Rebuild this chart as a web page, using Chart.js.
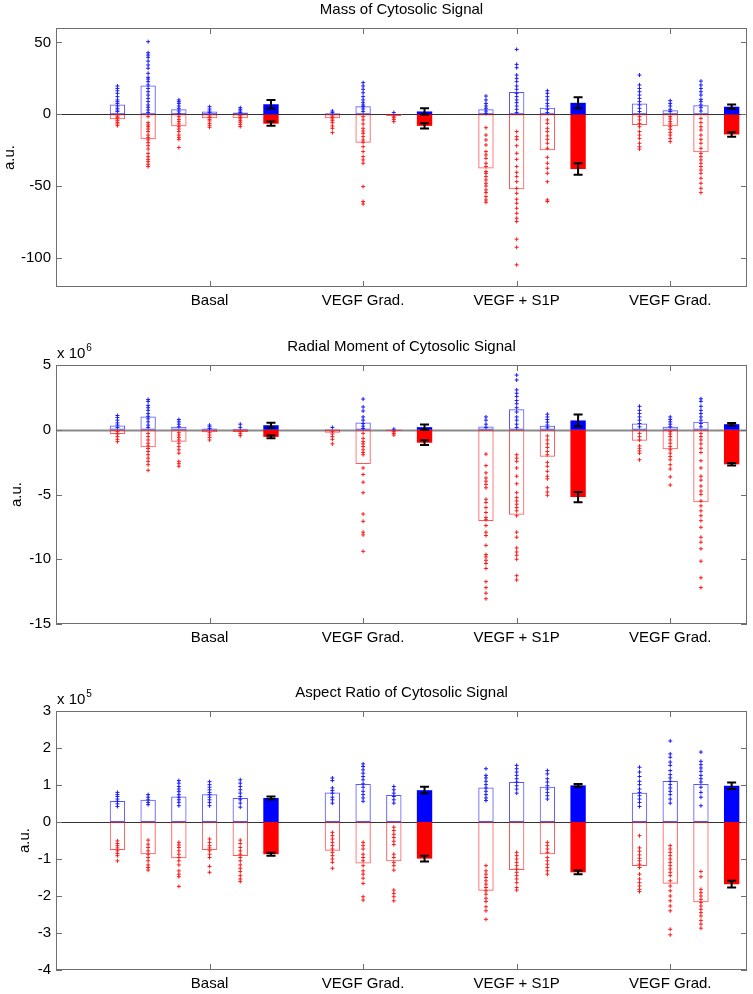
<!DOCTYPE html>
<html><head><meta charset="utf-8">
<script src="https://cdn.jsdelivr.net/npm/chart.js@4.4.0/dist/chart.umd.min.js"></script>
<style>
html,body{margin:0;padding:0;background:#fff;}
body{width:753px;height:994px;position:relative;overflow:hidden;}
.panel{position:absolute;left:0;width:753px;}
canvas{display:block;}
</style></head><body>
<div class="panel" style="top:0px;height:320px"><canvas id="c1" width="753" height="320"></canvas></div>
<div class="panel" style="top:337px;height:320px"><canvas id="c2" width="753" height="320"></canvas></div>
<div class="panel" style="top:683px;height:311px"><canvas id="c3" width="753" height="311"></canvas></div>
<script>
// ---------- shared categories ----------
const barPositions = [2,3,4,5,6, 9,10,11, 14,15,16, 19,20,21];
const summaryPositions = [7,12,17,22];
const groupTicks = [5,10,15,20];
const groupLabels = ['Basal','VEGF Grad.','VEGF + S1P','VEGF Grad.'];

// ---------- Panel 1: Mass of Cytosolic Signal ----------
const massTicks = [-100,-50,0,50];
const massPosMeans = [6.9,20.1,3.5,1.9,1.2, 0.7,5.6,0.3, 3.5,15.5,4.6, 7.6,2.8,6.3];
const massNegMeans = [-3.5,-17.4,-8.3,-2.8,-2.8, -2.8,-19.7,-1.2, -37.7,-52.1,-25, -7.4,-8.3,-26.4];
const massPosPoints = [
  [19.7,18,16.4,14.6,12.3,10,8.8,7.6,5.8,4.2,3,1.9],
  [50.5,42.8,41.2,39.6,37,34.3,32,28.5,25.7,24.5,22.7,20.4,18,15.7,13.4,11.1,8.8,6.5,4.9,3,1.2],
  [10,8.8,7.6,5.8,4.2,2.3,0.7],
  [5.3,3.7,2.3,1.2],
  [4.6,3.5,2.3,1.2],
  [2.3,1.2],
  [22,19.7,17.4,15,12.3,10,8.1,6.5,5.3,3.7,1.9],
  [1.2],
  [12.7,10,7.6,5.8,4.2,2.3,0.7],
  [45.1,34.7,32.4,27.3,25,22.7,19.7,17.4,14.6,12.3,10,8.1,5.8,3.5,1.2],
  [16.4,14.6,12.3,10,7.6,5.8,3.5,1.2],
  [27.3,20.4,18,15.7,13.4,11.1,8.8,6.5,4.2,1.9],
  [9.5,7.6,5.8,3.5,1.9],
  [23.1,20.4,18,15.7,13.4,10.4,8.8,6.5,4.6,2.3]
];
const massNegPoints = [
  [-1.2,-2.1,-3.2,-4.4,-5.6,-6.7,-7.9],
  [-1.6,-5.8,-7.4,-8.6,-10.2,-12,-14.4,-16.2,-17.8,-19.7,-21.8,-24.1,-27.1,-29.4,-31.3,-32.9,-34.7,-36.3],
  [-1.6,-3.5,-5.1,-6.7,-8.6,-10.2,-12,-14.4,-16,-17.4,-23.1],
  [-1.2,-2.3,-3.5,-4.6,-6.3,-7.6,-9],
  [-1,-2,-3.2,-4.4,-5.5,-7,-8.5],
  [-1.2,-2.1,-3.2,-4.4,-5.8,-8.1,-9.7,-12.7],
  [-1.6,-3.9,-6.7,-9.7,-11.6,-13.2,-15.5,-17.8,-19.4,-22.5,-25.9,-29.4,-31.7,-34,-50.2,-60.6,-62.3],
  [-1.2,-2.3,-3.5,-5.1],
  [-9.3,-14.4,-17.8,-21.3,-25.9,-28.2,-30.6,-34,-36.3,-39.8,-41,-43.3,-45.6,-47.9,-49.8,-52.5,-54.4,-57.2,-59.5,-61.1],
  [-12,-15.5,-17.4,-21.8,-27.1,-31.3,-36.3,-40.3,-43.3,-46.8,-51.4,-54.9,-59,-61.8,-65.3,-68.8,-72.2,-74.5,-86.8,-92.4,-104.6],
  [-3.9,-6.3,-9.7,-12,-15,-17.4,-20.1,-23.6,-29.9,-34,-37.5,-41,-46.8,-59.5,-60.6],
  [-1.6,-3.9,-6.3,-8.6,-12,-14.4,-16.7,-20.1,-22.5,-24.1],
  [-1.6,-3.2,-5.1,-6.7,-8.6,-10.4,-12.5,-14.4,-16.7,-19],
  [-2.8,-5.8,-8.6,-10.9,-14.4,-17.4,-20.1,-23.6,-27.1,-29.4,-31.7,-34,-36.3,-38.7,-41,-44.4,-47.9,-51.4,-54.4]
];
const massSumPos = [7,2,8,5.3];
const massSumPosErr = [3,2.2,3.8,1.5];
const massSumNeg = [-6.5,-8,-38,-14];
const massSumNegErr = [1.5,1.8,4,1.5];

// ---------- Panel 2: Radial Moment (x 10^6) ----------
const radTicks = [-15,-10,-5,0,5];
const radPosMeans = [0.33,1.02,0.23,0.1,0.08, 0.03,0.56,0.02, 0.25,1.58,0.3, 0.48,0.23,0.61];
const radNegMeans = [-0.33,-1.35,-0.92,-0.2,-0.18, -0.23,-2.65,-0.1, -7.05,-6.56,-2.09, -0.84,-1.5,-5.6];
const radPosPoints = [
  [1.1,0.94,0.74,0.53,0.36,0.18],
  [2.34,2.19,1.88,1.7,1.5,1.25,1.04,0.84,0.61,0.36,0.18],
  [0.79,0.61,0.43,0.23],
  [0.36,0.23,0.1],
  [0.43,0.18],
  [0.18],
  [2.37,1.76,1.45,0.99,0.74,0.48,0.28,0.1],
  [0.05],
  [0.99,0.74,0.43,0.18],
  [4.22,3.84,3.08,2.82,2.57,2.26,2.01,1.7,1.37,0.99,0.74,0.43,0.18],
  [1.2,0.99,0.79,0.59,0.36,0.15],
  [1.81,1.5,1.25,0.99,0.74,0.48,0.23],
  [0.99,0.79,0.61,0.43,0.23],
  [2.39,2.19,1.81,1.5,1.25,0.99,0.74,0.48,0.23]
];
const radNegPoints = [
  [-0.15,-0.33,-0.53,-0.74,-0.92],
  [-0.28,-0.53,-0.79,-1.04,-1.25,-1.45,-1.68,-1.93,-2.19,-2.44,-2.7,-3.13],
  [-0.23,-0.41,-0.59,-0.79,-1.04,-1.3,-1.55,-1.81,-2.44,-2.62,-2.82],
  [-0.23,-0.41,-0.59,-0.79],
  [-0.15,-0.31,-0.46],
  [-0.15,-0.33,-0.53,-0.74,-1.09],
  [-0.28,-0.66,-0.92,-1.09,-1.3,-1.55,-1.76,-1.93,-2.95,-3.46,-4.05,-4.86,-6.51,-7.07,-7.91,-8.12,-9.39],
  [-0.15,-0.28,-0.41],
  [-1.88,-2.77,-3.33,-3.72,-3.97,-4.22,-4.48,-5.37,-5.62,-6.01,-6.39,-6.77,-6.95,-7.4,-7.91,-8.17,-8.93,-9.64,-9.82,-10.08,-10.33,-10.71,-11.73,-12.19,-12.62,-13.05],
  [-1.93,-2.19,-2.44,-2.95,-3.59,-4.17,-4.86,-5.24,-5.5,-5.75,-6.01,-6.26,-6.64,-7.91,-8.3,-9.13,-9.44,-9.69,-10,-11.27,-11.6],
  [-0.48,-0.79,-1.09,-1.37,-1.68,-1.93,-2.52,-2.82,-3.21,-3.59,-3.79,-4.48,-4.81,-5.06],
  [-0.28,-0.53,-0.79,-1.25,-1.43,-1.63,-1.81,-2.32],
  [-0.15,-0.33,-0.53,-0.79,-1.04,-1.3,-1.55,-1.81,-2.06,-2.32,-2.7,-3.03,-3.64,-4.27],
  [-0.28,-0.53,-0.79,-1.09,-1.43,-1.76,-2.39,-2.95,-3.59,-3.89,-4.35,-4.73,-4.99,-5.5,-5.88,-6.26,-6.64,-7.02,-7.53,-8.3,-8.68,-9.19,-10.15,-11.43,-12.19]
];
const radSumPos = [0.35,0.2,0.72,0.43];
const radSumPosErr = [0.2,0.2,0.45,0.1];
const radSumNeg = [-0.55,-1.0,-5.2,-2.67];
const radSumNegErr = [0.1,0.18,0.4,0.1];

// ---------- Panel 3: Aspect Ratio (x 10^5) ----------
const aspTicks = [-4,-3,-2,-1,0,1,2,3];
const aspPosMeans = [0.57,0.6,0.69,0.75,0.65, 0.8,1.03,0.73, 0.93,1.08,0.95, 0.79,1.11,1.03];
const aspNegMeans = [-0.76,-0.87,-0.98,-0.76,-0.92, -0.78,-1.12,-1.06, -1.86,-1.3,-0.87, -1.19,-1.67,-2.17];
const aspPosPoints = [
  [0.8,0.74,0.69,0.62,0.56,0.49,0.42],
  [0.74,0.67,0.6,0.53,0.47],
  [1.12,1.05,0.96,0.89,0.82,0.74,0.67,0.6,0.53,0.44],
  [1.09,1.01,0.94,0.87,0.8,0.74,0.67,0.6,0.53,0.44],
  [1.14,1.05,0.96,0.87,0.78,0.69,0.6,0.51,0.4],
  [1.19,1.12,0.92,0.85,0.78,0.67,0.6,0.51],
  [1.57,1.5,1.41,1.32,1.23,1.14,1.03,0.94,0.83,0.74,0.65,0.56],
  [0.96,0.87,0.78,0.69,0.6,0.51],
  [1.44,1.26,1.19,1.1,1.01,0.92,0.83,0.74,0.65,0.58],
  [1.53,1.44,1.35,1.26,1.17,1.08,0.98,0.89,0.78],
  [1.39,1.3,1.17,1.08,0.98,0.89,0.8,0.71,0.62],
  [1.48,1.35,1.23,1.1,1.01,0.89,0.8,0.71,0.62,0.53,0.42],
  [2.19,1.84,1.75,1.62,1.53,1.39,1.28,1.19,1.1,1.01,0.92,0.83,0.74,0.62,0.51],
  [1.89,1.64,1.55,1.46,1.37,1.26,1.17,1.08,0.94,0.8,0.67,0.44]
];
const aspNegPoints = [
  [-0.51,-0.58,-0.64,-0.7,-0.78,-0.85,-0.91,-1.05],
  [-0.49,-0.6,-0.69,-0.78,-0.87,-0.96,-1.05,-1.16,-1.23,-1.3],
  [-0.55,-0.62,-0.69,-0.78,-0.87,-0.96,-1.05,-1.16,-1.32,-1.41,-1.48,-1.74],
  [-0.46,-0.55,-0.64,-0.7,-0.78,-0.87,-0.96,-1.2,-1.36],
  [-0.49,-0.58,-0.69,-0.78,-0.87,-0.96,-1.05,-1.16,-1.25,-1.34,-1.45,-1.54,-1.61],
  [-0.28,-0.37,-0.46,-0.55,-0.64,-0.73,-0.82,-0.91,-1,-1.09,-1.25],
  [-0.55,-0.64,-0.73,-0.87,-0.96,-1.05,-1.18,-1.32,-1.41,-1.52,-1.66,-2.02,-2.11],
  [-0.14,-0.23,-0.33,-0.42,-0.52,-0.61,-0.87,-0.96,-1.09,-1.18,-1.3,-1.84,-1.93,-2.02,-2.13],
  [-1.18,-1.32,-1.41,-1.5,-1.59,-1.68,-1.77,-1.86,-1.95,-2.06,-2.15,-2.29,-2.4,-2.63],
  [-0.82,-0.91,-1,-1.09,-1.18,-1.27,-1.36,-1.45,-1.54,-1.64,-1.77,-1.84],
  [-0.55,-0.64,-0.73,-0.82,-0.96,-1.05,-1.14,-1.23,-1.32,-1.41],
  [-0.37,-0.7,-0.79,-0.89,-0.98,-1.05,-1.14,-1.23,-1.41,-1.54,-1.64,-1.73,-1.82,-1.88],
  [-0.64,-0.73,-0.82,-0.91,-1,-1.09,-1.18,-1.27,-1.36,-1.45,-1.59,-1.73,-1.86,-2,-2.13,-2.27,-2.4,-2.9,-3.05],
  [-1.34,-1.48,-1.82,-1.91,-2,-2.09,-2.18,-2.27,-2.36,-2.45,-2.54,-2.66,-2.76,-2.87]
];
const aspSumPos = [0.65,0.86,0.99,0.98];
const aspSumPosErr = [0.04,0.09,0.04,0.09];
const aspSumNeg = [-0.87,-0.99,-1.36,-1.68];
const aspSumNegErr = [0.04,0.08,0.05,0.09];

// ---------- rendering ----------
const FONT = '"Liberation Sans", Arial, Helvetica, sans-serif';
const CHART_LEFT = 56, CHART_RIGHT = 747, CHART_BOTTOM = 287;

function flatPoints(groups) {
  const out = [];
  groups.forEach((arr, i) => arr.forEach(v => out.push({x: barPositions[i], y: v})));
  return out;
}

const decorPlugin = {
  id: 'decor',
  beforeDatasetsDraw(chart) {
    const o = chart.options.plugins.decor;
    const {ctx, chartArea: a, scales: {y}} = chart;
    const y0 = Math.round(y.getPixelForValue(0)) + 0.5;
    ctx.save();
    ctx.strokeStyle = o.zeroColor; ctx.lineWidth = o.zeroWidth;
    ctx.beginPath(); ctx.moveTo(a.left, y0); ctx.lineTo(a.right, y0); ctx.stroke();
    ctx.restore();
  },
  afterDatasetsDraw(chart) {
    const o = chart.options.plugins.decor;
    const {ctx, scales: {x, y}} = chart;
    ctx.save();
    ctx.strokeStyle = '#000'; ctx.lineWidth = 2;
    summaryPositions.forEach((p, i) => {
      const px = x.getPixelForValue(p);
      [[o.sumPos[i], o.sumPosErr[i]], [o.sumNeg[i], o.sumNegErr[i]]].forEach(([m, e]) => {
        const t = y.getPixelForValue(m + e), b = y.getPixelForValue(m - e);
        ctx.beginPath();
        ctx.moveTo(px, t); ctx.lineTo(px, b);
        ctx.moveTo(px - 4.5, t); ctx.lineTo(px + 4.5, t);
        ctx.moveTo(px - 4.5, b); ctx.lineTo(px + 4.5, b);
        ctx.stroke();
      });
    });
    ctx.restore();
  },
  afterDraw(chart) {
    const o = chart.options.plugins.decor;
    const {ctx, chartArea: a, scales: {x, y}} = chart;
    ctx.save();
    ctx.strokeStyle = '#6e6e6e'; ctx.lineWidth = 1;
    ctx.strokeRect(a.left + 0.5, a.top + 0.5, a.right - a.left - 1, a.bottom - a.top - 1);
    ctx.beginPath();
    x.ticks.forEach(t => {
      const px = Math.round(x.getPixelForValue(t.value)) + 0.5;
      ctx.moveTo(px, a.bottom); ctx.lineTo(px, a.bottom - 6);
      ctx.moveTo(px, a.top); ctx.lineTo(px, a.top + 6);
    });
    y.ticks.forEach(t => {
      const py = Math.round(y.getPixelForValue(t.value)) + 0.5;
      ctx.moveTo(a.left, py); ctx.lineTo(a.left + 6, py);
      ctx.moveTo(a.right, py); ctx.lineTo(a.right - 6, py);
    });
    ctx.stroke();
    if (o.exponent) {
      ctx.fillStyle = '#000';
      ctx.textBaseline = 'middle';
      ctx.font = '15px ' + FONT;
      const base = 'x 10';
      ctx.fillText(base, a.left + 1, a.top - 11);
      const w = ctx.measureText(base).width;
      ctx.font = '10px ' + FONT;
      ctx.fillText(o.exponent, a.left + 2 + w, a.top - 17);
    }
    ctx.restore();
  }
};

function makePanel(id, title, yMin, yMax, yTicks, posMeans, negMeans, posPoints, negPoints,
                   sumPos, sumPosErr, sumNeg, sumNegErr, exponent, zeroColor, zeroWidth, yTitlePad) {
  const canvas = document.getElementById(id);
  const H = canvas.height;
  const font = {family: FONT, size: 15, weight: 'normal'};
  const barCommon = {grouped: false, barPercentage: 0.5, categoryPercentage: 1, borderSkipped: false};
  return new Chart(canvas, {
    type: 'bar',
    data: {
      datasets: [
        {type: 'scatter', data: flatPoints(posPoints), pointStyle: 'cross', radius: 2, borderColor: '#1a1aff', borderWidth: 1, order: 0},
        {type: 'scatter', data: flatPoints(negPoints), pointStyle: 'cross', radius: 2, borderColor: '#ff1a1a', borderWidth: 1, order: 0},
        Object.assign({data: summaryPositions.map((p, i) => ({x: p, y: sumPos[i]})), backgroundColor: '#0000ff', borderWidth: 0, order: 1}, barCommon),
        Object.assign({data: summaryPositions.map((p, i) => ({x: p, y: sumNeg[i]})), backgroundColor: '#ff0000', borderWidth: 0, order: 1}, barCommon),
        Object.assign({data: barPositions.map((p, i) => ({x: p, y: posMeans[i]})), backgroundColor: 'rgba(0,0,0,0)', borderColor: 'rgba(30,30,255,0.75)', borderWidth: 1, order: 2}, barCommon),
        Object.assign({data: barPositions.map((p, i) => ({x: p, y: negMeans[i]})), backgroundColor: 'rgba(0,0,0,0)', borderColor: 'rgba(255,30,30,0.75)', borderWidth: 1, order: 2}, barCommon)
      ]
    },
    options: {
      responsive: false, animation: false, events: [],
      layout: {padding: {left: 0, right: 753 - CHART_RIGHT, top: 0, bottom: 0}},
      plugins: {
        legend: {display: false}, tooltip: {enabled: false},
        title: {display: true, fullSize: false, text: title, font: font, color: '#000', padding: {top: 1, bottom: 9}},
        decor: {sumPos, sumPosErr, sumNeg, sumNegErr, exponent, zeroColor, zeroWidth}
      },
      scales: {
        x: {
          type: 'linear', min: 0, max: 22.5, offset: false,
          grid: {display: false, drawTicks: false}, border: {display: false},
          ticks: {font: font, color: '#000', padding: 5, autoSkip: false, maxRotation: 0,
                  callback: (v, i) => groupLabels[i]},
          afterBuildTicks: s => { s.ticks = groupTicks.map(v => ({value: v})); },
          afterFit: s => { s.height = H - CHART_BOTTOM; }
        },
        y: {
          type: 'linear', min: yMin, max: yMax,
          grid: {display: false, drawTicks: false}, border: {display: false},
          ticks: {font: font, color: '#000', padding: 5},
          afterBuildTicks: s => { s.ticks = yTicks.map(v => ({value: v})); },
          afterFit: s => { s.width = CHART_LEFT; },
          title: {display: true, text: 'a.u.', font: font, color: '#000', padding: {top: yTitlePad, bottom: 0}}
        }
      }
    },
    plugins: [decorPlugin]
  });
}

makePanel('c1', 'Mass of Cytosolic Signal', -120, 60, massTicks, massPosMeans, massNegMeans, massPosPoints, massNegPoints,
  massSumPos, massSumPosErr, massSumNeg, massSumNegErr, null, '#333', 1, 0.5);
makePanel('c2', 'Radial Moment of Cytosolic Signal', -15, 5, radTicks, radPosMeans, radNegMeans, radPosPoints, radNegPoints,
  radSumPos, radSumPosErr, radSumNeg, radSumNegErr, '6', '#8a8a8a', 2, 7.7);
makePanel('c3', 'Aspect Ratio of Cytosolic Signal', -4, 3, aspTicks, aspPosMeans, aspNegMeans, aspPosPoints, aspNegPoints,
  aspSumPos, aspSumPosErr, aspSumNeg, aspSumNegErr, '5', '#333', 1, 16.3);
</script>
</body></html>
